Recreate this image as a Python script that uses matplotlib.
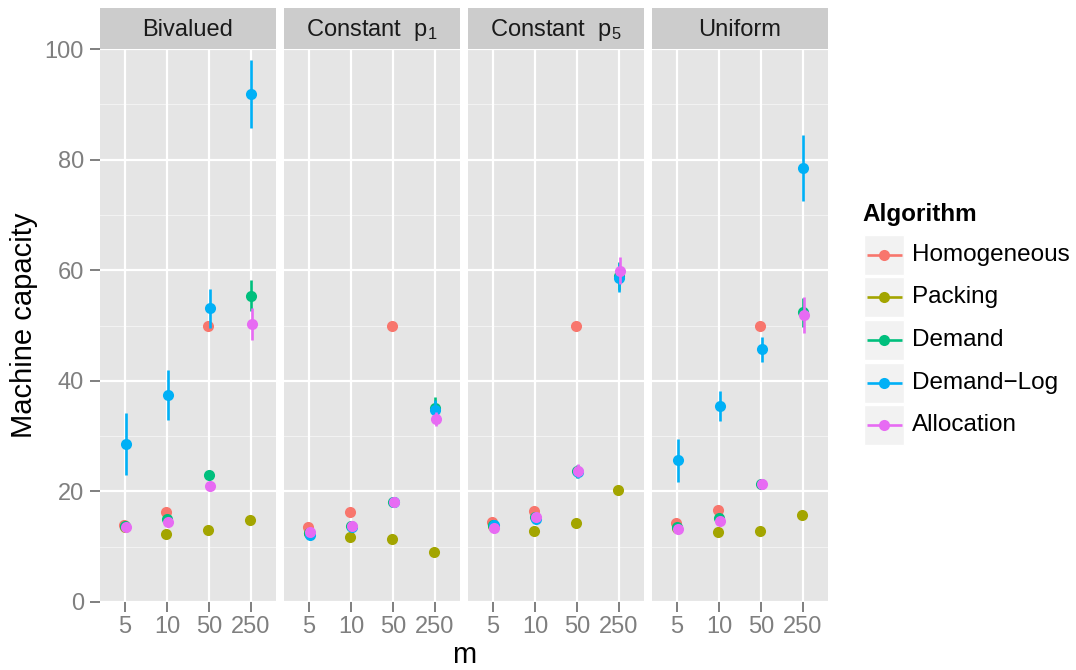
import matplotlib
matplotlib.use('Agg')
import matplotlib.pyplot as plt
from matplotlib.patches import Rectangle
import numpy as np

plt.rcParams['font.family'] = ['Liberation Sans', 'DejaVu Sans']
plt.rcParams['mathtext.fontset'] = 'custom'
plt.rcParams['mathtext.rm'] = 'Liberation Sans'
plt.rcParams['mathtext.it'] = 'Liberation Sans:italic'

# ---------------- data ----------------
m_labels = ['5', '10', '50', '250']
panels = ['Bivalued', r'Constant  $\mathregular{p_1}$', r'Constant  $\mathregular{p_5}$', 'Uniform']
algorithms = ['Homogeneous', 'Packing', 'Demand', 'Demand\u2212Log', 'Allocation']
colors = ['#F8766D', '#A3A500', '#00BF7D', '#00B0F6', '#E76BF3']

# rows: panels (Bivalued, Constant p1, Constant p5, Uniform); columns: m
homogeneous_mean = [[14.0, 16.2, 50.0, 250.0],
                    [13.5, 16.2, 50.0, 250.0],
                    [14.4, 16.5, 50.0, 250.0],
                    [14.2, 16.7, 50.0, 250.0]]
homogeneous_err = [[0.3, 0.3, 0.3, 0.3]] * 4

packing_mean = [[13.5, 12.35, 13.1, 14.85],
                [12.5, 11.8, 11.4, 9.05],
                [13.8, 12.9, 14.2, 20.3],
                [13.4, 12.7, 12.9, 15.65]]
packing_err = [[0.2, 0.2, 0.2, 0.3]] * 4

demand_mean = [[13.8, 15.0, 22.9, 55.4],
               [12.4, 13.7, 18.1, 35.1],
               [14.0, 15.4, 23.6, 59.0],
               [13.5, 15.1, 21.3, 52.4]]
demand_err = [[0.4, 0.5, 0.8, 2.8],
              [0.3, 0.4, 0.5, 2.0],
              [0.3, 0.4, 1.1, 2.5],
              [0.4, 0.5, 0.7, 2.6]]

demand_log_mean = [[28.5, 37.4, 53.1, 91.9],
                   [12.2, 13.6, 18.1, 34.7],
                   [13.9, 15.0, 23.55, 58.65],
                   [25.6, 35.5, 45.7, 78.5]]
demand_log_err = [[5.6, 4.5, 3.5, 6.1],
                  [0.3, 0.4, 0.6, 1.8],
                  [0.3, 0.5, 1.2, 2.6],
                  [3.9, 2.7, 2.3, 5.9]]

allocation_mean = [[13.5, 14.5, 21.05, 50.2],
                   [12.6, 13.7, 18.15, 33.1],
                   [13.4, 15.3, 23.75, 59.9],
                   [13.2, 14.7, 21.3, 51.9]]
allocation_err = [[0.4, 0.5, 0.7, 2.9],
                  [0.3, 0.4, 0.6, 1.3],
                  [0.3, 0.5, 1.2, 2.4],
                  [0.4, 0.6, 0.7, 3.2]]

means = [homogeneous_mean, packing_mean, demand_mean, demand_log_mean, allocation_mean]
errs = [homogeneous_err, packing_err, demand_err, demand_log_err, allocation_err]
dodge = [-0.03, -0.015, 0.0, 0.015, 0.03]

y_ticks = [0, 20, 40, 60, 80, 100]
y_minor = [10, 30, 50, 70, 90]

# ---------------- layout ----------------
W, H = 1076, 670
fig = plt.figure(figsize=(W / 100, H / 100), dpi=100)
fig.patch.set_facecolor('white')

panel_left = [100, 284, 468, 652]
panel_w = 176
panel_top, panel_bot = 49, 602
strip_top = 8

grey_text = '#7F7F7F'

for i, name in enumerate(panels):
    l = panel_left[i]
    ax = fig.add_axes([l / W, (H - panel_bot) / H, panel_w / W, (panel_bot - panel_top) / H])
    ax.set_facecolor('#E5E5E5')
    for s in ax.spines.values():
        s.set_visible(False)
    ax.set_xlim(-0.6, 3.6)
    ax.set_ylim(0, 100)
    for yv in y_minor:
        ax.axhline(yv, color='#F2F2F2', lw=0.8, zorder=0.5)
    for yv in y_ticks:
        ax.axhline(yv, color='white', lw=1.6, zorder=0.6)
    for xv in range(len(m_labels)):
        ax.axvline(xv, color='white', lw=1.6, zorder=0.6)
    ax.set_xticks(range(len(m_labels)))
    ax.set_xticklabels(m_labels)
    ax.tick_params(axis='x', length=7.5, width=1.4, color=grey_text, labelcolor=grey_text,
                   labelsize=17, pad=2.5)
    if i == 0:
        ax.set_yticks(y_ticks)
        ax.tick_params(axis='y', length=7.5, width=1.4, color=grey_text, labelcolor=grey_text,
                       labelsize=17, pad=4)
    else:
        ax.set_yticks([])
    x = np.arange(len(m_labels))
    for j, alg in enumerate(algorithms):
        ax.errorbar(x + dodge[j], means[j][i], yerr=errs[j][i], fmt='o', color=colors[j],
                    ms=8, mew=0, elinewidth=1.9, capsize=0, zorder=2 + j)

    # strip
    sax = fig.add_axes([l / W, (H - panel_top) / H, panel_w / W, (panel_top - strip_top) / H])
    sax.set_facecolor('#CCCCCC')
    sax.set_xticks([])
    sax.set_yticks([])
    for s in sax.spines.values():
        s.set_visible(False)
    sax.text(0.5, 0.47, name, ha='center', va='center', fontsize=17, color='#1A1A1A',
             transform=sax.transAxes)

# overlay in pixel coordinates for titles and legend
ov = fig.add_axes([0, 0, 1, 1], facecolor='none')
ov.set_xlim(0, W)
ov.set_ylim(H, 0)
ov.axis('off')

ov.text(24, (panel_top + panel_bot) / 2, 'Machine capacity', rotation=90, ha='center',
        va='center', fontsize=21, color='black')
ov.text((panel_left[0] + panel_left[-1] + panel_w) / 2, 663, 'm', ha='center',
        va='baseline', fontsize=21, color='black')

# legend
ov.text(862, 215, 'Algorithm', ha='left', va='center', fontsize=17.5, fontweight='bold',
        color='black')
key_y0 = 254.7
key_dy = 42.65
for j, alg in enumerate(algorithms):
    cy = key_y0 + j * key_dy
    ov.add_patch(Rectangle((864, cy - 20), 40, 40, facecolor='#F2F2F2', edgecolor='white',
                           lw=1.0))
    ov.plot([866.5, 901.5], [cy, cy], color=colors[j], lw=1.9, solid_capstyle='butt')
    ov.plot([884], [cy], 'o', color=colors[j], ms=8, mew=0)
    ov.text(912, cy, alg, ha='left', va='center', fontsize=17.5, color='black')

fig.savefig('out.png', dpi=100)
